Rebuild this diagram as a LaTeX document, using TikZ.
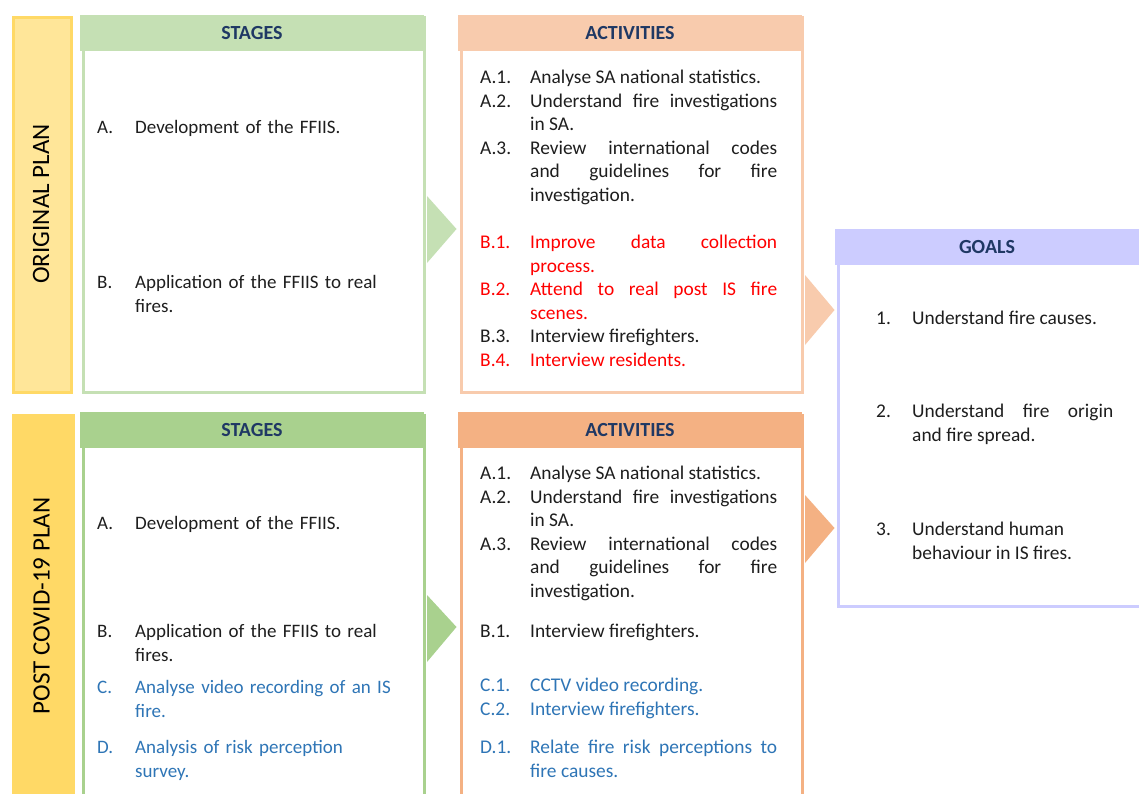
\documentclass[tikz,border=0pt]{standalone}
\usepackage{fontspec}
\setmainfont{Carlito}
\usetikzlibrary{calc}
\definecolor{txt}{HTML}{1E1E1E}
\definecolor{hdr}{HTML}{1F3864}
\definecolor{gA}{HTML}{C5E0B4}
\definecolor{gB}{HTML}{A9D18E}
\definecolor{oA}{HTML}{F8CBAD}
\definecolor{oB}{HTML}{F4B183}
\definecolor{lav}{HTML}{CCCCFF}
\definecolor{yA}{HTML}{FFE699}
\definecolor{yB}{HTML}{FFD966}
\definecolor{rd}{HTML}{FF0000}
\definecolor{bl}{HTML}{2E75B6}
\hyphenpenalty=10000
\exhyphenpenalty=10000
\newcommand{\hitem}[4]{\hyphenpenalty=10000\relax\hangindent=#1\relax\hangafter=1\relax\noindent{\color{#2}\strut\makebox[#1][l]{#3}#4\strut}\par}
\newcommand{\nl}{\hfill\break}
\begin{document}
\begin{tikzpicture}[x=1pt,y=-1pt,
  panel/.style={draw, line width=3pt, fill=white, rectangle, inner sep=0pt, anchor=north west},
  head/.style={font=\fontsize{20}{24}\selectfont\bfseries, text=hdr, inner sep=0pt},
  item/.style={anchor=north west, inner sep=0pt, text=txt,
    font=\fontsize{19.4}{23.5}\selectfont},
  jitem/.style={item, align=justify},
  litem/.style={item, align=left, font=\fontsize{19}{23.5}\selectfont},
  vlabel/.style={rotate=90, font=\fontsize{25}{30}\selectfont, text=black, inner sep=0pt}]
\clip (0,0) rectangle (1139,794);
\fill[white] (0,0) rectangle (1139,794);

% plan bars
\node[panel, draw=yB, fill=yA, minimum width=58pt, minimum height=374pt] (p1) at (11.5,16.5) {};
\node[vlabel] (p1t) at (41,204) {ORIGINAL PLAN};
\node[panel, draw=yB, fill=yB, minimum width=60pt, minimum height=400pt] (p2) at (11.5,413.5) {};
\node[vlabel] (p2t) at (41.5,606) {POST COVID-19 PLAN};

% top stages
\node[panel, draw=gA, minimum width=341pt, minimum height=374pt] (s1) at (81.5,16.5) {};
\fill[gA] (80,15) rectangle (424,51);
\node[head] (s1h) at (252,33) {STAGES};
% top activities
\node[panel, draw=oA, minimum width=341pt, minimum height=374pt] (a1) at (459.5,16.5) {};
\fill[oA] (458,15) rectangle (802,51);
\node[head] (a1h) at (630,33) {ACTIVITIES};
% goals
\node[panel, draw=lav, minimum width=320pt, minimum height=374pt] (g) at (836.5,230.5) {};
\fill[lav] (835,229) rectangle (1160,265);
\node[head] (gh) at (987,247) {GOALS};
% bottom stages
\node[panel, draw=gB, minimum width=341pt, minimum height=400pt] (s2) at (81.5,413.5) {};
\fill[gB] (80,412) rectangle (424,448);
\node[head] (s2h) at (252,430) {STAGES};
% bottom activities
\node[panel, draw=oB, minimum width=341pt, minimum height=400pt] (a2) at (459.5,413.5) {};
\fill[oB] (458,412) rectangle (802,448);
\node[head] (a2h) at (630,430) {ACTIVITIES};

% chevrons
\fill[gA] ($(s1.north east)+(1.5,179.5)$) -- ($(a1.north west)+(-3,212.5)$) -- ($(s1.north east)+(1.5,246.5)$) -- cycle;
\fill[oA] ($(a1.north east)+(1.5,258.5)$) -- ($(g.north west)+(-2,79.5)$) -- ($(a1.north east)+(1.5,328.5)$) -- cycle;
\fill[gB] ($(s2.north east)+(1.5,181.5)$) -- ($(a2.north west)+(-3,213.5)$) -- ($(s2.north east)+(1.5,248.5)$) -- cycle;
\fill[oB] ($(a2.north east)+(1.5,81.5)$) -- ($(g.north west)+(-2,297.5)$) -- ($(a2.north east)+(1.5,149.5)$) -- cycle;

% top stages items
\node[litem, text width=320pt] (s1a) at (97,117) {\hitem{38pt}{txt}{A.}{Development of the FFIIS.}};
\node[litem, text width=320pt] (s1b) at (97,272) {\hitem{38pt}{txt}{B.}{Application of the FFIIS to real\nl fires.}};

% top activities items
\node[jitem, text width=297pt] (a1a) at (480,67) {%
\hitem{50pt}{txt}{A.1.}{Analyse SA national statistics.}
\hitem{50pt}{txt}{A.2.}{Understand fire investigations\linebreak in SA.}
\hitem{50pt}{txt}{A.3.}{Review international codes\linebreak and guidelines for fire\linebreak investigation.}};
\node[jitem, text width=297pt] (a1b) at (480,232) {%
\hitem{50pt}{rd}{B.1.}{Improve data collection\linebreak process.}
\hitem{50pt}{rd}{B.2.}{Attend to real post IS fire\linebreak scenes.}
\hitem{50pt}{txt}{B.3.}{Interview firefighters.}
\hitem{50pt}{rd}{B.4.}{Interview residents.}};

% goals items
\node[jitem, text width=237pt] (g1) at (876,308) {\hitem{36pt}{txt}{1.}{Understand fire causes.}};
\node[jitem, text width=237pt] (g2) at (876,401) {\hitem{36pt}{txt}{2.}{Understand fire origin\linebreak and fire spread.}};
\node[jitem, text width=237pt] (g3) at (876,519) {\hitem{36pt}{txt}{3.}{Understand human\nl behaviour in IS fires.}};

% bottom stages items
\node[litem, text width=320pt] (s2a) at (97,513) {\hitem{38pt}{txt}{A.}{Development of the FFIIS.}};
\node[litem, text width=320pt] (s2b) at (97,621) {\hitem{38pt}{txt}{B.}{Application of the FFIIS to real\nl fires.}};
\node[litem, text width=320pt] (s2c) at (97,677) {\hitem{38pt}{bl}{C.}{Analyse video recording of an IS\nl fire.}};
\node[litem, text width=320pt] (s2d) at (97,737) {\hitem{38pt}{bl}{D.}{Analysis of risk perception\nl survey.}};

% bottom activities items
\node[jitem, text width=297pt] (a2a) at (480,463) {%
\hitem{50pt}{txt}{A.1.}{Analyse SA national statistics.}
\hitem{50pt}{txt}{A.2.}{Understand fire investigations\linebreak in SA.}
\hitem{50pt}{txt}{A.3.}{Review international codes\linebreak and guidelines for fire\linebreak investigation.}};
\node[jitem, text width=297pt] (a2b) at (480,621) {\hitem{50pt}{txt}{B.1.}{Interview firefighters.}};
\node[jitem, text width=297pt] (a2c) at (480,675) {%
\hitem{50pt}{bl}{C.1.}{CCTV video recording.}
\hitem{50pt}{bl}{C.2.}{Interview firefighters.}};
\node[jitem, text width=297pt] (a2d) at (480,737) {\hitem{50pt}{bl}{D.1.}{Relate fire risk perceptions to\linebreak fire causes.}};
\end{tikzpicture}
\end{document}
